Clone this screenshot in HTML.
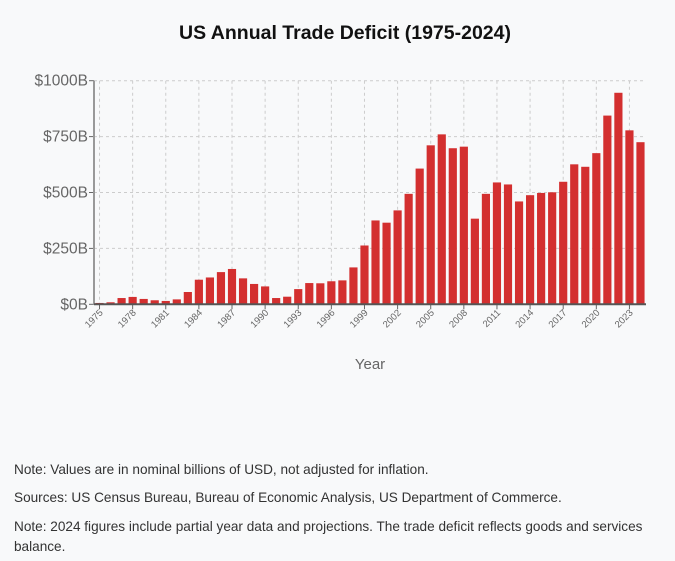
<!DOCTYPE html>
<html><head><meta charset="utf-8"><style>
body{margin:0;width:675px;height:561px;background:#f8f9fa;font-family:"Liberation Sans",sans-serif;overflow:hidden;position:relative}
.note{position:absolute;left:14px;font-size:13.6px;color:#333;white-space:nowrap;line-height:20px}
</style></head><body>
<svg width="675" height="440" style="position:absolute;left:0;top:0">
<text x="345" y="39" text-anchor="middle" font-size="19.5" font-weight="bold" fill="#111">US Annual Trade Deficit (1975-2024)</text>
<g id="grid"></g><g id="bars"></g><g id="axes"></g>
<text x="370" y="369" text-anchor="middle" font-size="15" fill="#666">Year</text>
</svg>
<div class="note" style="top:460px">Note: Values are in nominal billions of USD, not adjusted for inflation.</div>
<div class="note" style="top:488px">Sources: US Census Bureau, Bureau of Economic Analysis, US Department of Commerce.</div>
<div class="note" style="top:517px">Note: 2024 figures include partial year data and projections. The trade deficit reflects goods and services<br>balance.</div>
<script>
const years=[];for(let y=1975;y<=2024;y++)years.push(y);
const deficits=[6,9,28,33,24,18,15,22,55,110,120,144,158,116,91,80,28,34,68,95,94,103,107,165,263,375,365,420,494,607,711,760,698,705,383,494,545,536,460,488,498,501,548,626,615,676,844,946,778,725];
const yTicks=[0,250,500,750,1000];
const yTickLabels=["$0B","$250B","$500B","$750B","$1000B"];
const NS="http://www.w3.org/2000/svg";
const L=94,R=646,T=80.7,B=304.3;
const band=(R-L)/years.length;
const xPos=i=>L+i*band;
const yPos=v=>B-(v/1000)*(B-T);
function mk(t,a,p){const e=document.createElementNS(NS,t);for(const k in a)e.setAttribute(k,a[k]);p.appendChild(e);return e;}
const grid=document.getElementById('grid'),bars=document.getElementById('bars'),axes=document.getElementById('axes');
yTicks.forEach((v,i)=>{
 const g=mk('line',{x1:L,x2:R,y1:yPos(v),y2:yPos(v),stroke:'#ccc','stroke-dasharray':'3,3'},grid);
 
 
 const t=mk('text',{x:L-6,y:yPos(v)+5,'text-anchor':'end','font-size':15.5,fill:'#666'},axes);
 t.textContent=yTickLabels[i];
 
 
 mk('line',{x1:L-5,x2:L,y1:yPos(v),y2:yPos(v),stroke:'#666'},axes);
});
years.forEach((y,i)=>{
 const cx=xPos(i)+band/2;
 if(i%3===0){
  const g=mk('line',{x1:cx,x2:cx,y1:T,y2:B,stroke:'#ccc','stroke-dasharray':'3,3'},grid);
  
  
  mk('line',{x1:cx,x2:cx,y1:B,y2:B+5,stroke:'#666'},axes);
  const t=mk('text',{x:cx+4,y:B+9,'text-anchor':'end','font-size':9.5,fill:'#666',transform:`rotate(-45 ${cx+4} ${B+9})`},axes);
  t.textContent=y;
  
  
 }
 const w=band*0.74;
 const r=mk('rect',{x:cx-w/2,y:yPos(deficits[i]),width:w,height:B-yPos(deficits[i]),fill:'#d32f2f'},bars);
 
 
});
mk('line',{x1:L,x2:L,y1:T,y2:B,stroke:'#999','stroke-width':2},axes);
mk('line',{x1:L,x2:R,y1:B,y2:B,stroke:'#555','stroke-width':2},axes);
</script>
</body></html>
